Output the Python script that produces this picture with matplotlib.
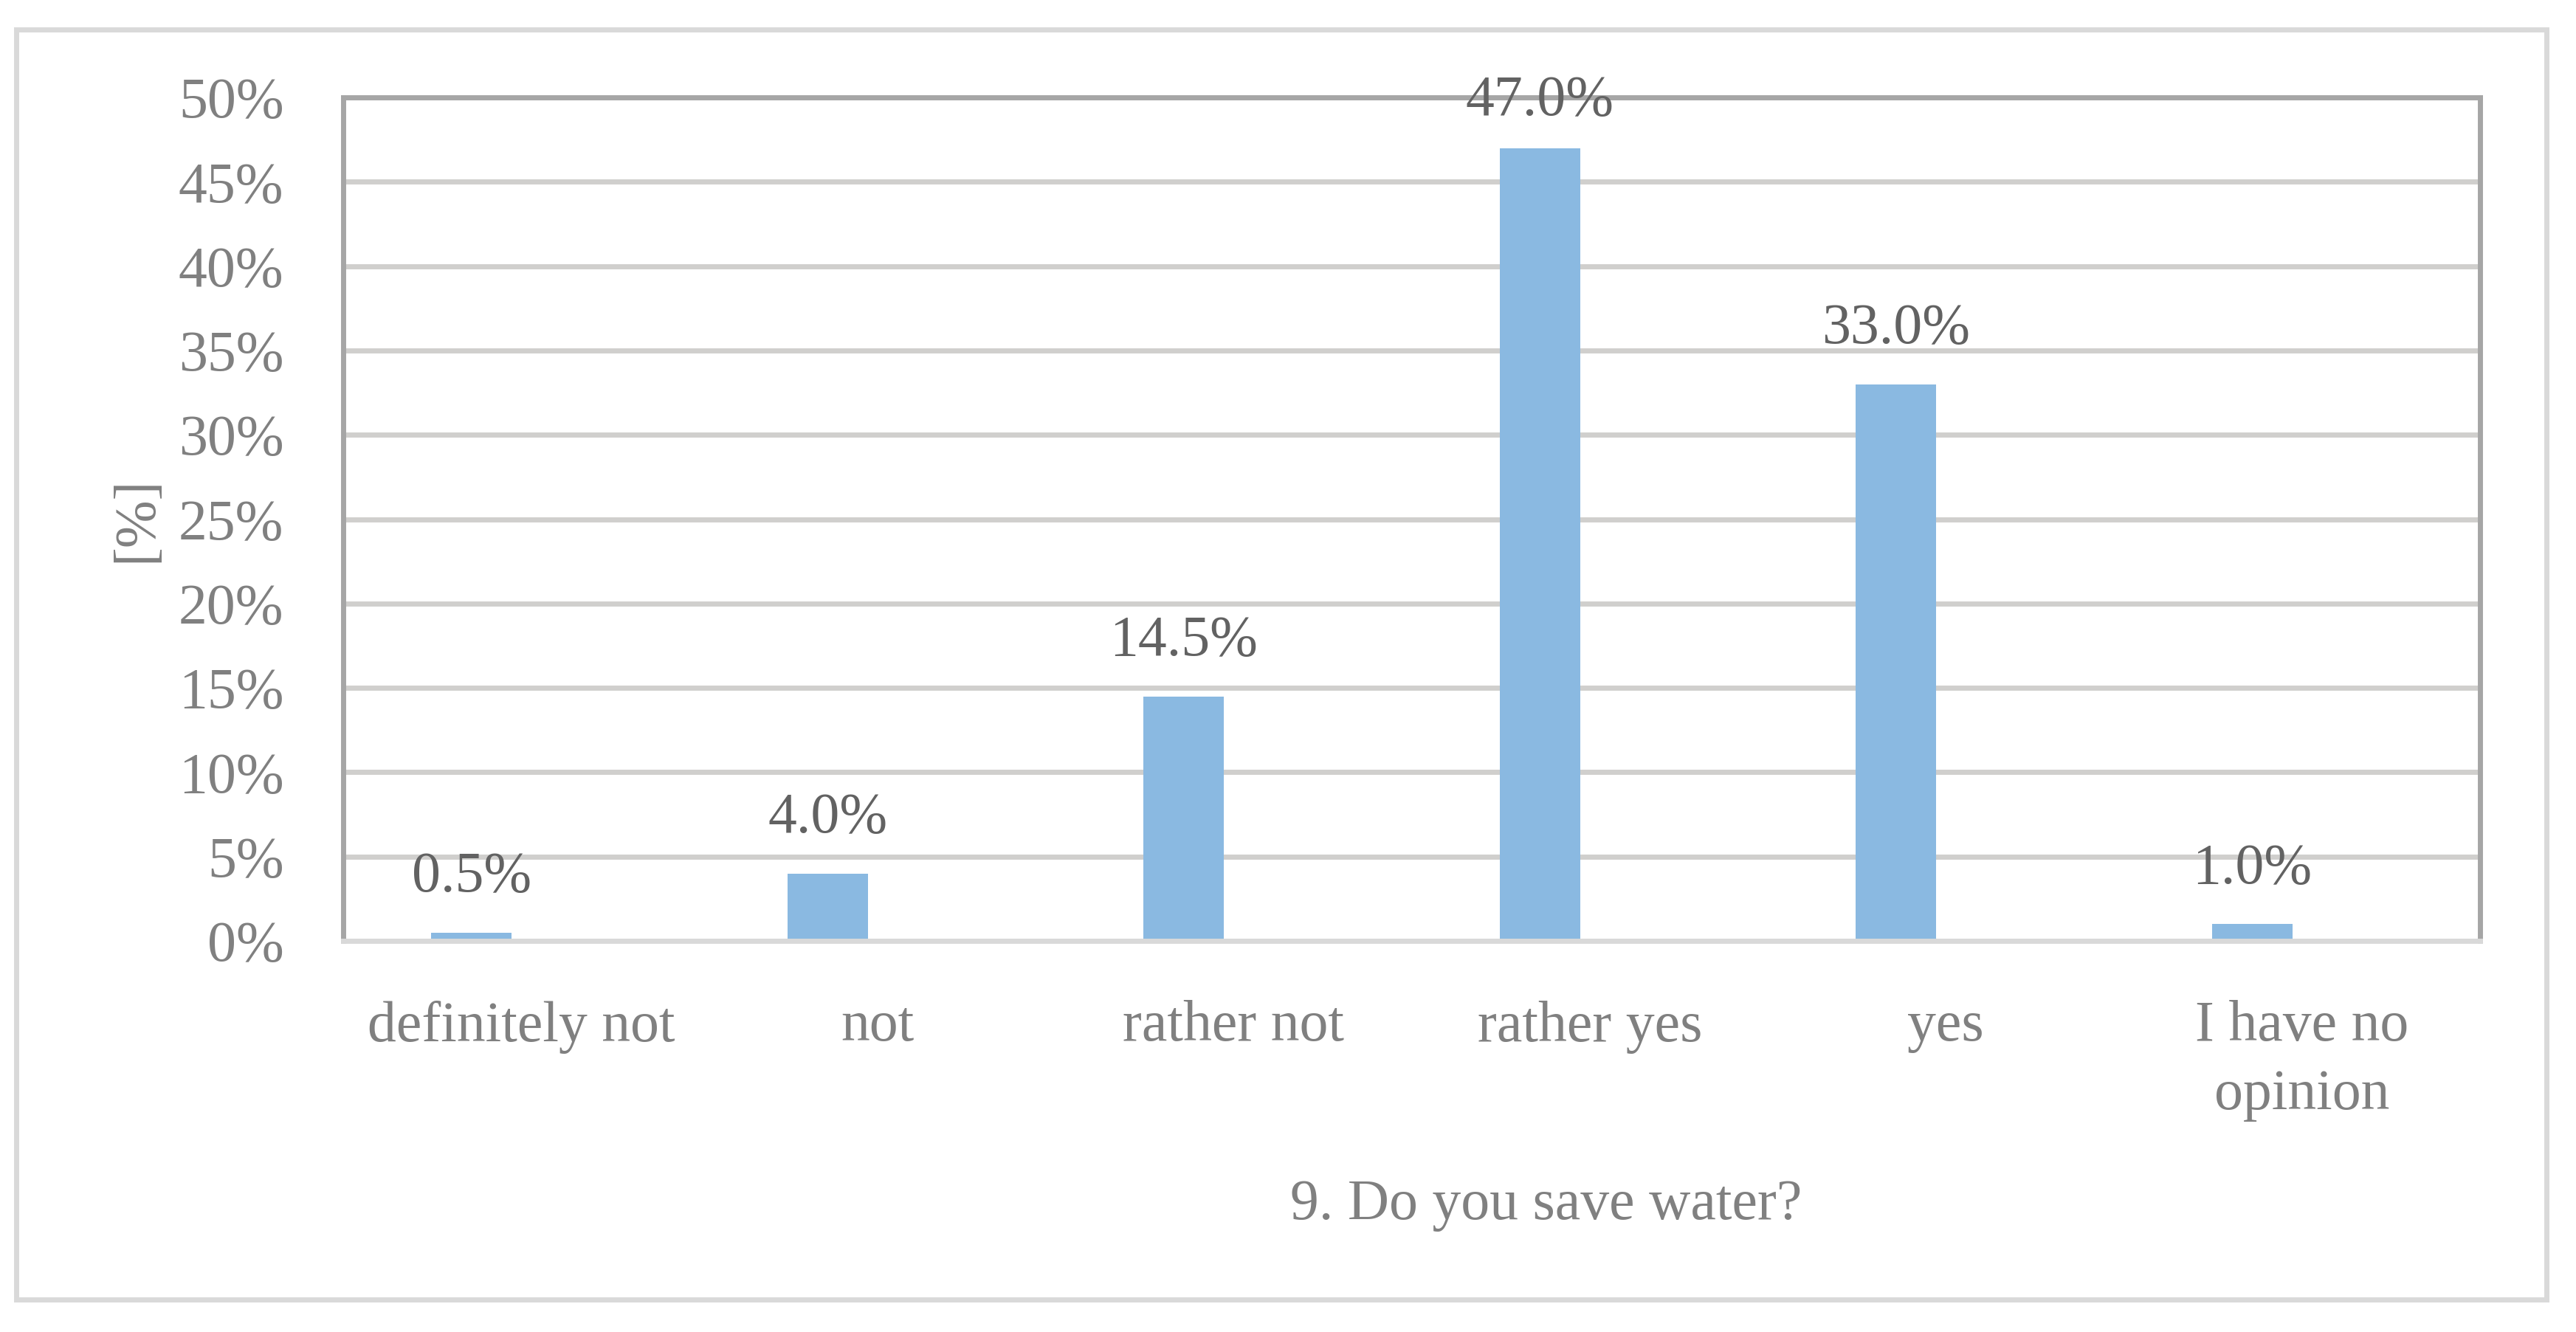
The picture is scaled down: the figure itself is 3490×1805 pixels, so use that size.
import matplotlib
matplotlib.use("Agg")
import matplotlib.pyplot as plt
from matplotlib.patches import Rectangle

categories = ["definitely not", "not", "rather not", "rather yes", "yes", "I have no\nopinion"]
values = [0.5, 4.0, 14.5, 47.0, 33.0, 1.0]
yticks = [0, 5, 10, 15, 20, 25, 30, 35, 40, 45, 50]
ylabel = "[%]"
xlabel = "9. Do you save water?"

W, H = 3491, 1805
DPI = 100
plt.rcParams['font.family'] = ['Liberation Serif', 'DejaVu Serif']
FS = 56

fig = plt.figure(figsize=(W / DPI, H / DPI), dpi=DPI)
fig.patch.set_facecolor('white')

# outer chart frame
fig.patches.append(Rectangle((22 / W, 1 - 1761 / H), (3450 - 22) / W, (1761 - 40) / H,
                             transform=fig.transFigure, fill=False,
                             edgecolor='#D9D9D9', linewidth=5))

L, R, T, B = 465, 3360, 132, 1275
ax = fig.add_axes([L / W, 1 - B / H, (R - L) / W, (B - T) / H])

x = list(range(len(categories)))
offset = -0.14
width = 0.226
bx = [i + offset for i in x]
ax.bar(bx, values, width=width, color='#8AB9E1', zorder=2)

ax.set_xlim(-0.5, len(categories) - 0.5)
ax.set_ylim(0, 50)
ax.set_yticks(yticks)
ax.set_yticklabels([f"{t}%" for t in yticks])
ax.set_xticks(x)
ax.set_xticklabels(categories, linespacing=1.4)
ax.tick_params(axis='both', length=0, labelsize=FS, labelcolor='#808080')
ax.tick_params(axis='y', pad=58)
ax.tick_params(axis='x', pad=58)

ax.yaxis.grid(True, color='#D0CFCD', linewidth=5)
ax.set_axisbelow(True)

for s in ['left', 'right', 'top']:
    ax.spines[s].set_color('#A6A6A6')
    ax.spines[s].set_linewidth(5)
ax.spines['bottom'].set_color('#D9D9D9')
ax.spines['bottom'].set_linewidth(5)
for s in ax.spines.values():
    s.set_zorder(3)

lab_off = 3.25
ymax = 50
for xi, v in zip(bx, values):
    y = min(v + lab_off, ymax - 0.25)
    ax.text(xi, y, f"{v:.1f}%", ha='center', va='center', fontsize=FS,
            color='#626262', zorder=5, clip_on=False)

ax.set_ylabel(ylabel, fontsize=FS, color='#808080')
ax.yaxis.set_label_coords((186 - L) / (R - L), 0.5 - (704 - (T + B) / 2) / (B - T))
ax.yaxis.label.set_va('center')

ax.set_xlabel(xlabel, fontsize=FS, color='#808080')
ax.xaxis.set_label_coords((2095 - L) / (R - L), -(1633 - B) / (B - T))
ax.xaxis.label.set_va('center')

fig.savefig("out.png", dpi=DPI, facecolor='white')
